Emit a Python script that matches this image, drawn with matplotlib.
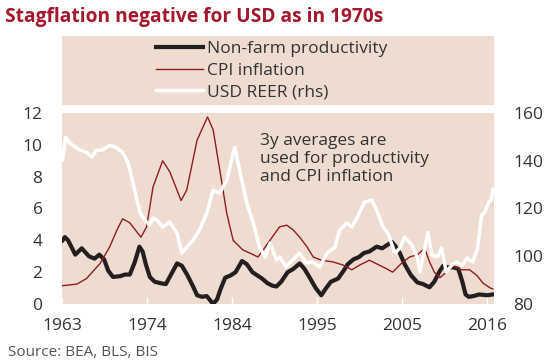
import numpy as np
import matplotlib.pyplot as plt

plt.rcParams['font.family'] = ['Open Sans', 'DejaVu Sans']

# productividad no agrícola (promedio 3 años), eje izquierdo
prod_anio = [1963.0, 1963.3, 1963.7, 1964.6, 1965.4, 1966.3, 1967.0, 1967.6, 1968.2, 1968.7,
             1969.3, 1970.2, 1970.8, 1971.4, 1972.0, 1972.6, 1973.0, 1973.4, 1973.9, 1974.5,
             1975.3, 1975.9, 1976.6, 1977.3, 1977.9, 1978.6, 1979.3, 1979.8, 1980.4, 1981.0,
             1981.4, 1981.8, 1982.3, 1982.7, 1983.3, 1984.0, 1984.6, 1985.4, 1986.0, 1986.7,
             1987.3, 1987.9, 1988.6, 1989.2, 1989.7, 1990.3, 1991.1, 1991.8, 1992.6, 1993.2,
             1993.8, 1994.6, 1995.3, 1995.9, 1996.5, 1997.4, 1998.1, 1998.6, 1999.3, 2000.0,
             2000.6, 2001.3, 2002.2, 2002.9, 2003.5, 2004.1, 2004.6, 2005.1, 2005.7, 2006.5,
             2007.3, 2008.0, 2008.8, 2009.4, 2010.0, 2010.5, 2011.1, 2011.8, 2012.4, 2012.9,
             2013.3, 2013.7, 2014.3, 2015.0, 2016.0, 2016.7]
prod = [4.0, 4.2, 4.0, 3.1, 3.5, 3.0, 2.85, 3.1, 2.8, 2.1,
        1.7, 1.75, 1.85, 1.85, 2.6, 3.6, 3.3, 2.5, 1.7, 1.4,
        1.3, 1.25, 1.9, 2.55, 2.4, 1.8, 1.1, 0.55, 0.45, 0.5,
        0.25, 0.0, 0.3, 0.9, 1.65, 1.8, 2.0, 2.7, 2.5, 2.0,
        1.8, 1.6, 1.3, 1.15, 1.1, 1.4, 2.0, 2.2, 2.55, 2.2,
        1.7, 1.0, 0.55, 1.0, 1.4, 1.6, 2.1, 2.5, 2.8, 2.95,
        3.2, 3.3, 3.6, 3.5, 3.7, 3.9, 3.6, 3.2, 2.5, 1.8,
        1.35, 1.25, 1.05, 1.4, 2.0, 2.4, 2.3, 2.3, 2.2, 1.4,
        0.6, 0.45, 0.5, 0.6, 0.55, 0.6]

# inflación CPI (promedio 3 años), eje izquierdo
cpi_anio = [1963.0, 1964.8, 1966.0, 1967.7, 1968.9, 1969.8, 1970.5, 1971.4, 1972.4, 1972.8,
            1973.5, 1974.3, 1975.5, 1976.4, 1977.8, 1978.5, 1979.8, 1981.1, 1981.8, 1982.7,
            1983.5, 1984.3, 1985.5, 1986.8, 1987.4, 1988.2, 1989.1, 1990.1, 1991.0, 1991.8,
            1992.6, 1993.5, 1994.3, 1995.3, 1996.7, 1998.0, 1999.1, 2000.1, 2001.3, 2002.5,
            2003.5, 2004.2, 2005.3, 2006.3, 2007.3, 2008.2, 2008.8, 2009.4, 2010.1, 2010.9,
            2011.6, 2012.7, 2013.8, 2014.7, 2015.5, 2016.4, 2016.7]
cpi = [1.15, 1.25, 1.6, 2.55, 3.6, 4.65, 5.35, 5.1, 4.45, 4.2,
       4.85, 7.35, 9.0, 8.3, 6.5, 7.15, 10.3, 11.75, 10.95, 8.2,
       5.7, 4.0, 3.4, 3.1, 2.95, 3.5, 4.15, 4.85, 4.95, 4.65,
       4.2, 3.6, 2.95, 2.75, 2.65, 2.45, 2.15, 2.45, 2.75, 2.45,
       2.2, 2.0, 2.55, 2.95, 3.1, 3.5, 2.65, 2.0, 1.65, 2.0,
       2.45, 2.15, 2.15, 1.8, 1.3, 1.0, 0.95]

# USD REER, eje derecho
reer_anio = [1963.0, 1963.4, 1963.9, 1964.5, 1965.2, 1966.0, 1966.7, 1967.2, 1967.9, 1968.9,
             1969.6, 1970.5, 1971.2, 1971.8, 1972.3, 1972.7, 1973.3, 1973.9, 1974.3, 1974.8,
             1975.5, 1976.4, 1977.3, 1977.9, 1978.5, 1979.3, 1980.1, 1981.0, 1981.8, 1982.6,
             1983.5, 1984.1, 1984.5, 1985.1, 1986.0, 1986.8, 1987.6, 1988.3, 1988.9, 1989.7,
             1990.1, 1990.9, 1991.7, 1992.6, 1993.4, 1994.2, 1995.1, 1996.0, 1997.0, 1997.6,
             1998.5, 1999.1, 1999.8, 2000.7, 2001.6, 2002.2, 2003.0, 2003.6, 2004.5, 2005.1,
             2005.7, 2006.6, 2007.3, 2007.6, 2008.1, 2008.6, 2009.1, 2009.8, 2010.3, 2010.9,
             2011.6, 2012.2, 2012.9, 2013.5, 2014.2, 2014.8, 2015.3, 2015.7, 2016.2, 2016.5, 2016.7]
reer = [140.3, 149.9, 147.4, 146.0, 144.4, 143.6, 141.5, 144.4, 144.4, 146.5,
        145.7, 143.6, 139.0, 130.6, 123.5, 118.0, 115.1, 113.0, 116.0, 115.1,
        112.2, 114.3, 109.7, 101.3, 103.8, 106.8, 111.0, 118.0, 127.7, 126.4,
        131.9, 140.3, 145.7, 136.1, 122.3, 113.9, 103.8, 99.7, 105.5, 98.4,
        99.7, 95.5, 98.4, 101.3, 97.2, 97.6, 95.5, 101.3, 103.8, 111.0,
        113.9, 112.2, 116.4, 122.7, 123.5, 119.3, 112.2, 109.7, 101.3, 103.4,
        108.0, 104.7, 99.2, 93.4, 101.8, 110.0, 100.5, 99.7, 103.4, 93.4,
        96.3, 97.6, 96.3, 99.2, 97.6, 103.4, 117.2, 118.5, 122.7, 123.5, 128.0]

etiquetas_x = ['1963', '1974', '1984', '1995', '2005', '2016']

beige = '#eedcd0'
gris = '#333333'

fig = plt.figure(figsize=(5.6, 3.63), dpi=100)

ax = fig.add_axes([62 / 560, 1 - 304 / 363, 432 / 560, 191 / 363])
ax.set_facecolor(beige)
l1, = ax.plot(prod_anio, prod, color='#231f20', lw=3.0, label='Non-farm productivity')
l2, = ax.plot(cpi_anio, cpi, color='#8e1c22', lw=1.0, label='CPI inflation')
ax.set_ylim(0, 12)
ax.set_yticks(range(0, 13, 2))
ax.set_xlim(1962.94, 2016.85)
ax.set_xticks(np.linspace(1963, 2016, 6))
ax.set_xticklabels(etiquetas_x)

ax2 = ax.twinx()
l3, = ax2.plot(reer_anio, reer, color='white', lw=2.5, label='USD REER (rhs)')
ax2.set_ylim(80, 160)
ax2.set_yticks(range(80, 161, 20))

for a in (ax, ax2):
    for s in a.spines.values():
        s.set_visible(False)
    a.tick_params(axis='y', length=0, labelsize=12.5, labelcolor=gris, pad=14)
ax.tick_params(axis='x', direction='in', color='white', length=5, width=1,
               labelsize=12.5, labelcolor=gris, pad=10)

ax.text(0.458, 0.895, '3y averages are\nused for productivity\nand CPI inflation',
        transform=ax.transAxes, ha='left', va='top', fontsize=12.5,
        color=gris, linespacing=1.15)

# caja de la leyenda arriba del gráfico
lax = fig.add_axes([62 / 560, 1 - 105 / 363, 432 / 560, 69 / 363])
lax.set_facecolor(beige)
lax.set_xticks([])
lax.set_yticks([])
for s in lax.spines.values():
    s.set_visible(False)
leg = lax.legend(handles=[l1, l2, l3], loc='center', frameon=False, fontsize=12.5,
                 handlelength=2.7, handletextpad=0.2, labelspacing=0.33,
                 borderaxespad=0, bbox_to_anchor=(0.485, 0.5))
for t in leg.get_texts():
    t.set_color(gris)

fig.text(5 / 560, 1 - 17 / 363, 'Stagflation negative for USD as in 1970s',
         fontsize=13.8, fontweight='bold', color='#a3172f', va='center', ha='left')
fig.text(8 / 560, 1 - 352 / 363, 'Source: BEA, BLS, BIS', fontsize=11,
         color='#555555', va='center', ha='left')

fig.savefig('out.png', dpi=100)
